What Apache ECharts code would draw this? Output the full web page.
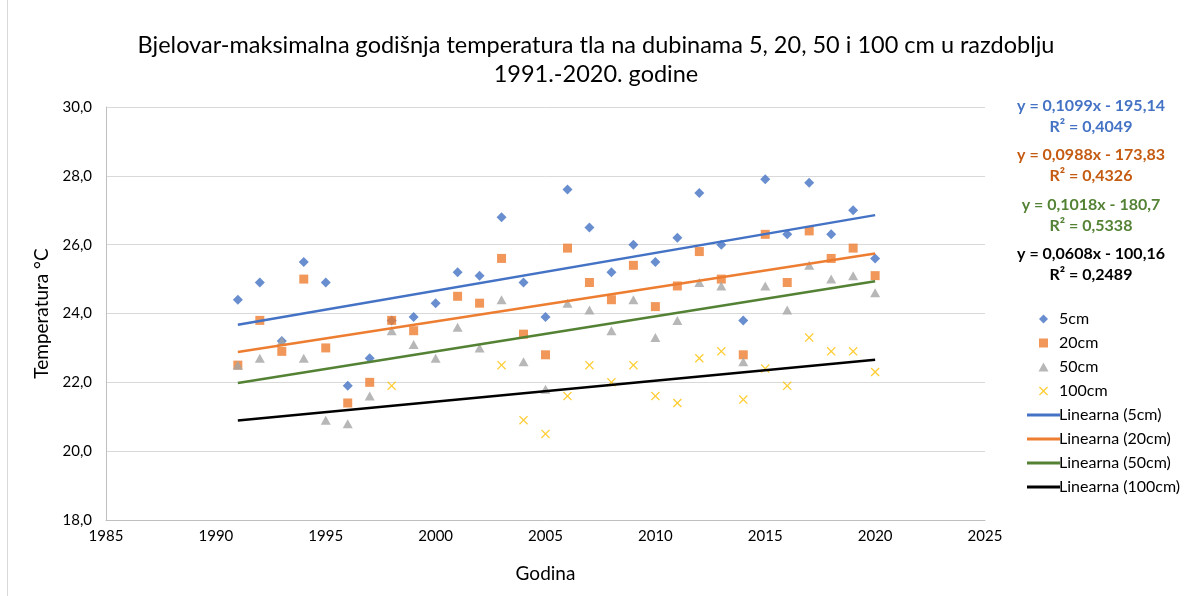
<!DOCTYPE html>
<html>
<head>
<meta charset="utf-8">
<script src="https://cdn.jsdelivr.net/npm/echarts@6/dist/echarts.min.js"></script>
<style>
html, body { margin: 0; padding: 0; background: #fff; }
#chart { width: 1192px; height: 596px; }
</style>
</head>
<body>
<div id="chart"></div>
<script>
var years = [1991, 1992, 1993, 1994, 1995, 1996, 1997, 1998, 1999, 2000,
             2001, 2002, 2003, 2004, 2005, 2006, 2007, 2008, 2009, 2010,
             2011, 2012, 2013, 2014, 2015, 2016, 2017, 2018, 2019, 2020];
var t5cm = [24.4, 24.9, 23.2, 25.5, 24.9, 21.9, 22.7, 23.8, 23.9, 24.3,
            25.2, 25.1, 26.8, 24.9, 23.9, 27.6, 26.5, 25.2, 26.0, 25.5,
            26.2, 27.5, 26.0, 23.8, 27.9, 26.3, 27.8, 26.3, 27.0, 25.6];
var t20cm = [22.5, 23.8, 22.9, 25.0, 23.0, 21.4, 22.0, 23.8, 23.5, null,
             24.5, 24.3, 25.6, 23.4, 22.8, 25.9, 24.9, 24.4, 25.4, 24.2,
             24.8, 25.8, 25.0, 22.8, 26.3, 24.9, 26.4, 25.6, 25.9, 25.1];
var t50cm = [22.5, 22.7, 23.2, 22.7, 20.9, 20.8, 21.6, 23.5, 23.1, 22.7,
             23.6, 23.0, 24.4, 22.6, 21.8, 24.3, 24.1, 23.5, 24.4, 23.3,
             23.8, 24.9, 24.8, 22.6, 24.8, 24.1, 25.4, 25.0, 25.1, 24.6];
var t100cm = [null, null, null, null, null, null, null, 21.9, null, null,
              null, null, 22.5, 20.9, 20.5, 21.6, 22.5, 22.0, 22.5, 21.6,
              21.4, 22.7, 22.9, 21.5, 22.4, 21.9, 23.3, 22.9, 22.9, 22.3];

// linear trend lines as printed on the chart
var seriesNames = ['5cm', '20cm', '50cm', '100cm'];
var trendSlope = [0.1099, 0.0988, 0.1018, 0.0608];
var trendIntercept = [-195.14, -173.83, -180.7, -100.16];
var trendRange = [1991, 2020];
var eqText = ['y = 0,1099x - 195,14', 'y = 0,0988x - 173,83', 'y = 0,1018x - 180,7', 'y = 0,0608x - 100,16'];
var r2Text = ['R² = 0,4049', 'R² = 0,4326', 'R² = 0,5338', 'R² = 0,2489'];

var pointColors = ['#4472C4', '#ED7D31', '#A5A5A5', '#FFC000'];
var lineColors = ['#4472C4', '#ED7D31', '#548235', '#000000'];
var eqColors = ['#4472C4', '#C55A11', '#548235', '#000000'];

var diamondPath = 'path://M5,0 L10,5 L5,10 L0,5 Z';
var squarePath = 'path://M0,0 L10,0 L10,10 L0,10 Z';
var trianglePath = 'path://M5,0 L10,9 L0,9 Z';
var xPath = 'path://M0,1 L1,0 L5,4 L9,0 L10,1 L6,5 L10,9 L9,10 L5,6 L1,10 L0,9 L4,5 Z';
var symbols = [diamondPath, squarePath, trianglePath, xPath];
var symbolSizes = [[10, 10], [9, 9], [10, 9], [9, 9]];
var lineIcon = 'path://M0,0 L33,0 L33,3 L0,3 Z';

var font = 'Lato';

function pairs(vals) {
    var out = [];
    for (var i = 0; i < years.length; i++) {
        if (vals[i] !== null) out.push([years[i], vals[i]]);
    }
    return out;
}

var allVals = [t5cm, t20cm, t50cm, t100cm];
var series = [];
var legendData = [];
for (var i = 0; i < 4; i++) {
    series.push({
        name: seriesNames[i],
        type: 'scatter',
        symbol: symbols[i],
        symbolSize: symbolSizes[i],
        itemStyle: { color: pointColors[i] },
        data: pairs(allVals[i])
    });
    legendData.push({ name: seriesNames[i], icon: symbols[i] });
}
for (var k = 0; k < 4; k++) {
    (function (i) {
        var name = 'Linearna (' + seriesNames[i] + ')';
        series.push({
            name: name,
            type: 'line',
            symbol: 'none',
            lineStyle: { color: lineColors[i], width: 2.5 },
            itemStyle: { color: lineColors[i] },
            z: 3,
            data: trendRange.map(function (x) {
                return [x, trendSlope[i] * x + trendIntercept[i]];
            })
        });
        legendData.push({ name: name, icon: lineIcon });
    })(k);
}

var eqGraphics = [];
var eqTop = [106, 155, 205, 254];
for (var i = 0; i < 4; i++) {
    eqGraphics.push({
        type: 'text', x: 1091, y: eqTop[i],
        style: { text: eqText[i], fill: eqColors[i], font: 'bold 16px ' + font, textAlign: 'center', textVerticalAlign: 'middle' }
    });
    eqGraphics.push({
        type: 'text', x: 1091, y: eqTop[i] + 21,
        style: { text: r2Text[i], fill: eqColors[i], font: 'bold 16px ' + font, textAlign: 'center', textVerticalAlign: 'middle' }
    });
}
eqGraphics.push({
    type: 'line', shape: { x1: 7.5, y1: 0, x2: 7.5, y2: 596 },
    style: { stroke: '#D9D9D9', lineWidth: 1 }
});

var chart = echarts.init(document.getElementById('chart'));
chart.setOption({
    animation: false,
    textStyle: { fontFamily: font },
    title: {
        text: 'Bjelovar-maksimalna godišnja temperatura tla na dubinama 5, 20, 50 i 100 cm u razdoblju\n1991.-2020. godine',
        left: 'center',
        top: 26,
        textStyle: { fontSize: 23.5, fontWeight: 'normal', color: '#000', lineHeight: 29, fontFamily: font }
    },
    legend: {
        orient: 'vertical',
        left: 1022,
        top: 306,
        itemWidth: 33,
        itemHeight: 9,
        itemGap: 8,
        symbolKeepAspect: true,
        textStyle: { fontSize: 16, color: '#000', padding: [0, 0, 0, -6] },
        data: legendData
    },
    grid: { left: 106, right: 207, top: 107, bottom: 76 },
    xAxis: {
        type: 'value',
        min: 1985, max: 2025, interval: 5,
        name: 'Godina',
        nameLocation: 'middle',
        nameGap: 44,
        nameTextStyle: { fontSize: 19, color: '#000' },
        axisLine: { show: true, lineStyle: { color: '#BFBFBF' } },
        axisTick: { show: false },
        splitLine: { show: false },
        axisLabel: {
            fontSize: 15, color: '#000', margin: 9,
            formatter: function (v) { return String(v); }
        }
    },
    yAxis: {
        type: 'value',
        min: 18, max: 30, interval: 2,
        name: 'Temperatura °C',
        nameLocation: 'middle',
        nameGap: 52,
        nameTextStyle: { fontSize: 19, color: '#000' },
        axisLine: { show: true, lineStyle: { color: '#BFBFBF' } },
        axisTick: { show: false },
        splitLine: { lineStyle: { color: '#D9D9D9' } },
        axisLabel: {
            fontSize: 15, color: '#000', margin: 14,
            formatter: function (v) { return v.toFixed(1).replace('.', ','); }
        }
    },
    graphic: eqGraphics,
    series: series
});
</script>
</body>
</html>
